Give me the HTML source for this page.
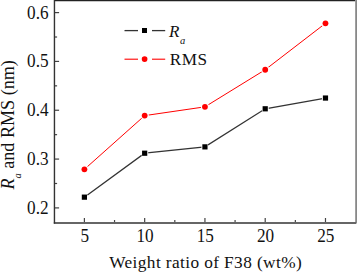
<!DOCTYPE html>
<html><head><meta charset="utf-8"><style>
html,body{margin:0;padding:0;background:#fff;width:357px;height:272px;overflow:hidden}
svg{display:block}
.ax{stroke:#444;stroke-width:1.2}
.t{font-family:"Liberation Serif",serif;fill:#111}
</style></head><body>
<svg width="357" height="272" viewBox="0 0 357 272">
<rect x="0" y="0" width="357" height="272" fill="#fff"/>
<line x1="54.5" y1="207.90" x2="59.1" y2="207.90" class="ax"/>
<line x1="54.5" y1="159.08" x2="59.1" y2="159.08" class="ax"/>
<line x1="54.5" y1="110.25" x2="59.1" y2="110.25" class="ax"/>
<line x1="54.5" y1="61.42" x2="59.1" y2="61.42" class="ax"/>
<line x1="54.5" y1="12.60" x2="59.1" y2="12.60" class="ax"/>
<line x1="54.5" y1="183.49" x2="57.1" y2="183.49" class="ax"/>
<line x1="54.5" y1="134.66" x2="57.1" y2="134.66" class="ax"/>
<line x1="54.5" y1="85.84" x2="57.1" y2="85.84" class="ax"/>
<line x1="54.5" y1="37.01" x2="57.1" y2="37.01" class="ax"/>
<line x1="84.40" y1="222.6" x2="84.40" y2="218.0" class="ax"/>
<line x1="144.67" y1="222.6" x2="144.67" y2="218.0" class="ax"/>
<line x1="204.94" y1="222.6" x2="204.94" y2="218.0" class="ax"/>
<line x1="265.21" y1="222.6" x2="265.21" y2="218.0" class="ax"/>
<line x1="325.48" y1="222.6" x2="325.48" y2="218.0" class="ax"/>
<line x1="114.54" y1="222.6" x2="114.54" y2="220.0" class="ax"/>
<line x1="174.81" y1="222.6" x2="174.81" y2="220.0" class="ax"/>
<line x1="235.08" y1="222.6" x2="235.08" y2="220.0" class="ax"/>
<line x1="295.35" y1="222.6" x2="295.35" y2="220.0" class="ax"/>
<line x1="54" y1="0.5" x2="355.2" y2="0.5" stroke="#222" stroke-width="1.4"/>
<line x1="356.1" y1="0" x2="356.1" y2="223.6" stroke="#888" stroke-width="1.8"/>
<line x1="53.8" y1="223" x2="356" y2="223" stroke="#666" stroke-width="2"/>
<line x1="54.45" y1="0" x2="54.45" y2="223.6" stroke="#333" stroke-width="1.4"/>
<polyline points="84.40,197.16 144.67,153.22 204.94,146.87 265.21,108.79 325.48,98.04" fill="none" stroke="#333" stroke-width="1.3"/>
<polyline points="84.40,169.33 144.67,115.62 204.94,106.83 265.21,69.73 325.48,23.34" fill="none" stroke="#f00" stroke-width="1.0"/>
<circle cx="84.40" cy="197.16" r="3.6" fill="#fff"/>
<rect x="81.80" y="194.56" width="5.2" height="5.2" fill="#000"/>
<circle cx="144.67" cy="153.22" r="3.6" fill="#fff"/>
<rect x="142.07" y="150.62" width="5.2" height="5.2" fill="#000"/>
<circle cx="204.94" cy="146.87" r="3.6" fill="#fff"/>
<rect x="202.34" y="144.27" width="5.2" height="5.2" fill="#000"/>
<circle cx="265.21" cy="108.79" r="3.6" fill="#fff"/>
<rect x="262.61" y="106.19" width="5.2" height="5.2" fill="#000"/>
<circle cx="325.48" cy="98.04" r="3.6" fill="#fff"/>
<rect x="322.88" y="95.44" width="5.2" height="5.2" fill="#000"/>
<circle cx="84.40" cy="169.33" r="4.2" fill="#fff"/>
<circle cx="84.40" cy="169.33" r="2.9" fill="#f00"/>
<circle cx="144.67" cy="115.62" r="4.2" fill="#fff"/>
<circle cx="144.67" cy="115.62" r="2.9" fill="#f00"/>
<circle cx="204.94" cy="106.83" r="4.2" fill="#fff"/>
<circle cx="204.94" cy="106.83" r="2.9" fill="#f00"/>
<circle cx="265.21" cy="69.73" r="4.2" fill="#fff"/>
<circle cx="265.21" cy="69.73" r="2.9" fill="#f00"/>
<circle cx="325.48" cy="23.34" r="4.2" fill="#fff"/>
<circle cx="325.48" cy="23.34" r="2.9" fill="#f00"/>
<line x1="124.5" y1="30.6" x2="138" y2="30.6" stroke="#333" stroke-width="1.3"/>
<line x1="152" y1="30.6" x2="165.2" y2="30.6" stroke="#333" stroke-width="1.3"/>
<rect x="142" y="28" width="5" height="5" fill="#000"/>
<line x1="124.5" y1="59.2" x2="138" y2="59.2" stroke="#f00" stroke-width="1.1"/>
<line x1="152" y1="59.2" x2="165.2" y2="59.2" stroke="#f00" stroke-width="1.1"/>
<circle cx="144.6" cy="59.1" r="2.85" fill="#f00"/>
<text transform="translate(169.10,36.90) scale(1.0,1.0)" style="font-size:17px" text-anchor="start" class="t" font-style="italic">R</text>
<text transform="translate(180.00,44.20) scale(1.0,1.0)" style="font-size:10.5px" text-anchor="start" class="t" font-style="italic">a</text>
<text transform="translate(169.80,65.00) scale(1.0,1.0)" style="font-size:17.2px" text-anchor="start" class="t" letter-spacing="0.5">RMS</text>
<text transform="translate(48.60,213.80) scale(0.93,1.0)" style="font-size:18.5px" text-anchor="end" class="t">0.2</text>
<text transform="translate(48.60,164.98) scale(0.93,1.0)" style="font-size:18.5px" text-anchor="end" class="t">0.3</text>
<text transform="translate(48.60,116.15) scale(0.93,1.0)" style="font-size:18.5px" text-anchor="end" class="t">0.4</text>
<text transform="translate(48.60,67.32) scale(0.93,1.0)" style="font-size:18.5px" text-anchor="end" class="t">0.5</text>
<text transform="translate(48.60,18.50) scale(0.93,1.0)" style="font-size:18.5px" text-anchor="end" class="t">0.6</text>
<text transform="translate(84.70,242.40) scale(0.93,1.0)" style="font-size:18.5px" text-anchor="middle" class="t">5</text>
<text transform="translate(144.97,242.40) scale(0.93,1.0)" style="font-size:18.5px" text-anchor="middle" class="t">10</text>
<text transform="translate(205.24,242.40) scale(0.93,1.0)" style="font-size:18.5px" text-anchor="middle" class="t">15</text>
<text transform="translate(265.51,242.40) scale(0.93,1.0)" style="font-size:18.5px" text-anchor="middle" class="t">20</text>
<text transform="translate(325.78,242.40) scale(0.93,1.0)" style="font-size:18.5px" text-anchor="middle" class="t">25</text>
<text transform="translate(109.20,268.20) scale(1.0,1.0)" style="font-size:17.3px" text-anchor="start" class="t" letter-spacing="0.4">Weight ratio of F38 (wt%)</text>
<g transform="translate(14.0,189.6) rotate(-90) scale(1.006,1)"><text x="0" y="0" class="t" style="font-size:18px"><tspan font-style="italic">R</tspan><tspan style="font-size:10.5px" font-style="italic" dy="6.8">a</tspan><tspan dy="-6.8"> and RMS (nm)</tspan></text></g>
</svg>
</body></html>
